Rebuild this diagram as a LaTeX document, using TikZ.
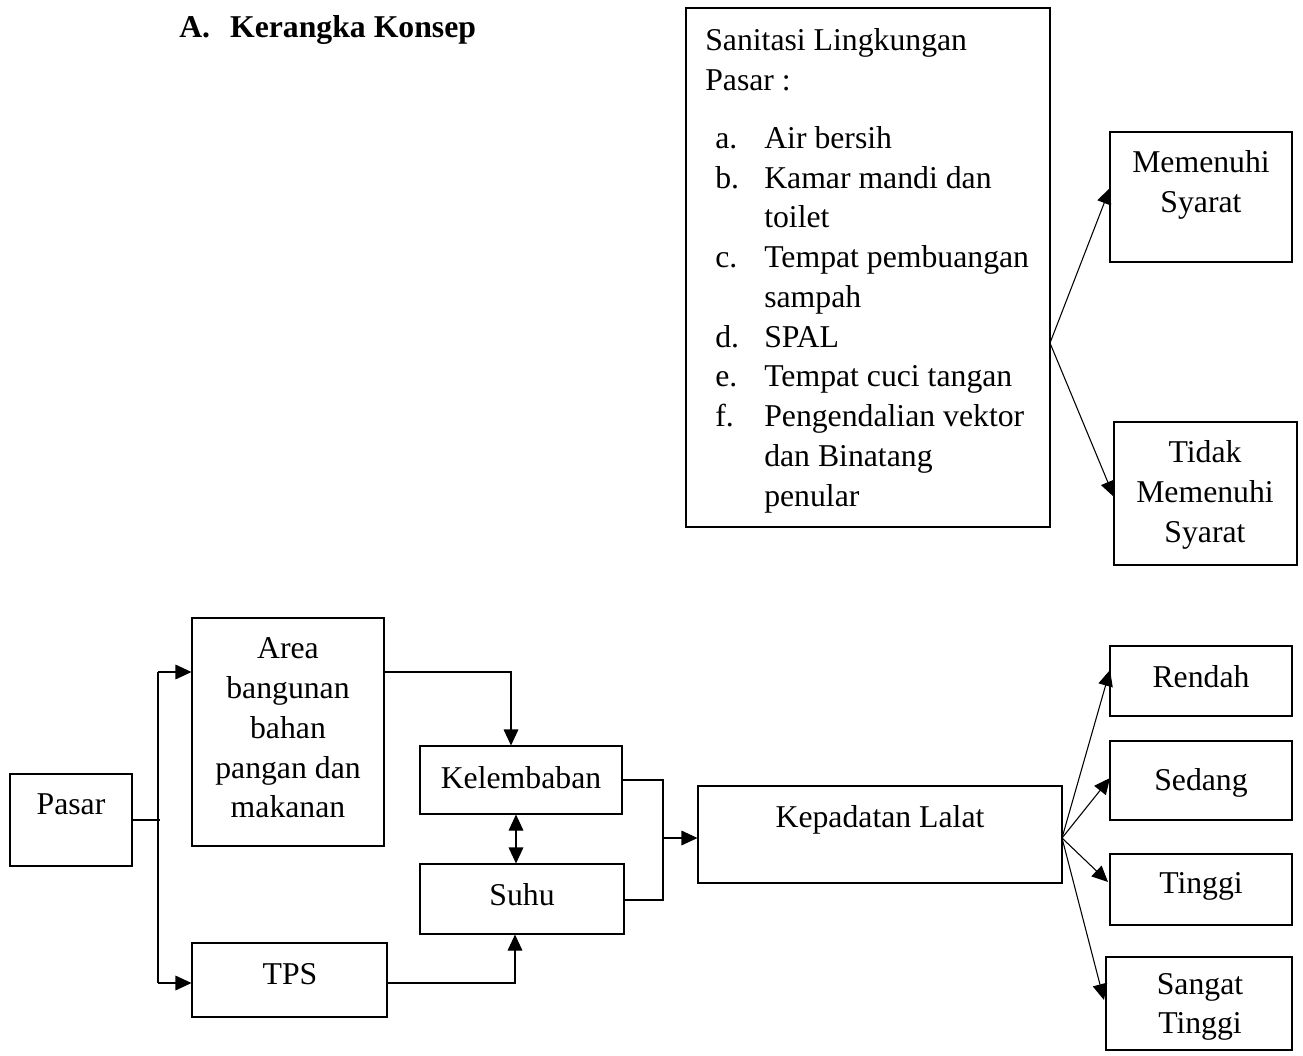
\documentclass[tikz,border=0pt]{standalone}
\usepackage{fontspec}
\setmainfont{Liberation Serif}
\usetikzlibrary{arrows.meta}
\newcommand\fsz{\fontsize{23.8pt}{29.8pt}\selectfont}
\begin{document}
\begin{tikzpicture}[x=0.75pt,y=-0.75pt,
  bx/.style 2 args={draw, line width=0.8pt, inner sep=0pt, minimum width=#1*0.75pt, minimum height=#2*0.75pt},
  tx/.style={font=\fsz, inner sep=0pt, align=center},
  tb/.style={font=\fsz, inner sep=0pt, anchor=base},
  lt/.style={font=\fsz, inner sep=0pt, anchor=base west},
  ln/.style={line width=0.8pt},
  arr/.style={ln, -{Triangle[length=12pt,width=11pt]}},
  darr/.style={ln, {Triangle[length=12pt,width=11pt]}-{Triangle[length=12pt,width=11pt]}}]
\useasboundingbox (0,0) rectangle (1303,1056);

% title
\node[lt, font=\fsz\bfseries] (title) at (179,38) {A.\hspace{15pt}Kerangka Konsep};

% top boxes
\node[bx={364}{519}] (san) at (868,267.5) {};
\node[lt] (s1) at (705,51) {Sanitasi Lingkungan};
\node[lt] (s2) at (705,90) {Pasar :};
\node[lt] (la) at (715,148) {a.};
\node[lt] (ia) at (764,148) {Air bersih};
\node[lt] (lb) at (715,188) {b.};
\node[lt] (ib) at (764,188) {Kamar mandi dan};
\node[lt] (ib2) at (764,227) {toilet};
\node[lt] (lc) at (715,267) {c.};
\node[lt] (ic) at (764,267) {Tempat pembuangan};
\node[lt] (ic2) at (764,307) {sampah};
\node[lt] (ld) at (715,347) {d.};
\node[lt] (id) at (764,347) {SPAL};
\node[lt] (le) at (715,386) {e.};
\node[lt] (ie) at (764,386) {Tempat cuci tangan};
\node[lt] (lf) at (715,426) {f.};
\node[lt] (if) at (764,426) {Pengendalian vektor};
\node[lt] (if2) at (764,466) {dan Binatang};
\node[lt] (if3) at (764,506) {penular};

\node[bx={182}{130}] (mem) at (1201,197) {};
\node[tx] (memT) at (1201,185) {Memenuhi\\Syarat};
\node[bx={183}{143}] (tdk) at (1205.5,493.5) {};
\node[tx] (tdkT) at (1205,495) {Tidak\\Memenuhi\\Syarat};

\coordinate (b1) at (1050,343);
\coordinate (tM) at (1110,188);
\coordinate (tT) at (1114,497);
\draw[arr] (b1) -- (tM);
\draw[arr] (b1) -- (tT);

% bottom boxes
\node[bx={122}{92}] (pasar) at (71,820) {};
\node[tb] (pasarT) at (71,814) {Pasar};
\node[bx={192}{228}] (area) at (288,732) {};
\node[tx] (areaT) at (288,728) {Area\\bangunan\\bahan\\pangan dan\\makanan};
\node[bx={195}{74}] (tps) at (289.5,980) {};
\node[tb] (tpsT) at (290,984) {TPS};
\node[bx={202}{68}] (kel) at (521,780) {};
\node[tb] (kelT) at (521,788) {Kelembaban};
\node[bx={204}{70}] (suhu) at (522,899) {};
\node[tb] (suhuT) at (522,905) {Suhu};
\node[bx={364}{97}] (kep) at (880,834.5) {};
\node[tb] (kepT) at (880,827) {Kepadatan Lalat};

\node[bx={182}{70}] (ren) at (1201,681) {};
\node[tb] (renT) at (1201,687) {Rendah};
\node[bx={182}{79}] (sed) at (1201,780.5) {};
\node[tb] (sedT) at (1201,790) {Sedang};
\node[bx={182}{71}] (tin) at (1201,889.5) {};
\node[tb] (tinT) at (1201,893) {Tinggi};
\node[bx={186}{93}] (sgt) at (1199,1003.5) {};
\node[tx] (sgtT) at (1200,1007) {Sangat\\Tinggi};

% connectors bottom
\coordinate (jP) at (160,820);
\coordinate (aA) at (158,672);
\coordinate (aT) at (158,983);
\draw[ln] (pasar.east) -- (jP);
\draw[ln] (aA) -- (aT);
\draw[arr] (aA) -- (aA -| area.west);
\draw[arr] (aT) -- (aT -| tps.west);

\coordinate (c1) at (511,672);
\draw[arr] (c1 -| area.east) -- (c1) -- (c1 |- kel.north);

\coordinate (xks) at (516,840);
\draw[darr] (xks |- kel.south) -- (xks |- suhu.north);

\coordinate (c2) at (515,983);
\draw[arr] (c2 -| tps.east) -- (c2) -- (c2 |- suhu.south);

\coordinate (c3) at (663,780);
\coordinate (c4) at (663,900);
\coordinate (c5) at (663,838);
\draw[ln] (c3 -| kel.east) -- (c3) -- (c4) -- (c4 -| suhu.east);
\draw[arr] (c5) -- (c5 -| kep.west);

\coordinate (b2) at (1062,838);
\coordinate (tR) at (1110,670);
\coordinate (tS) at (1110,778);
\coordinate (tG) at (1108,882);
\coordinate (tV) at (1104,1000);
\draw[arr] (b2) -- (tR);
\draw[arr] (b2) -- (tS);
\draw[arr] (b2) -- (tG);
\draw[arr] (b2) -- (tV);
\end{tikzpicture}
\end{document}
